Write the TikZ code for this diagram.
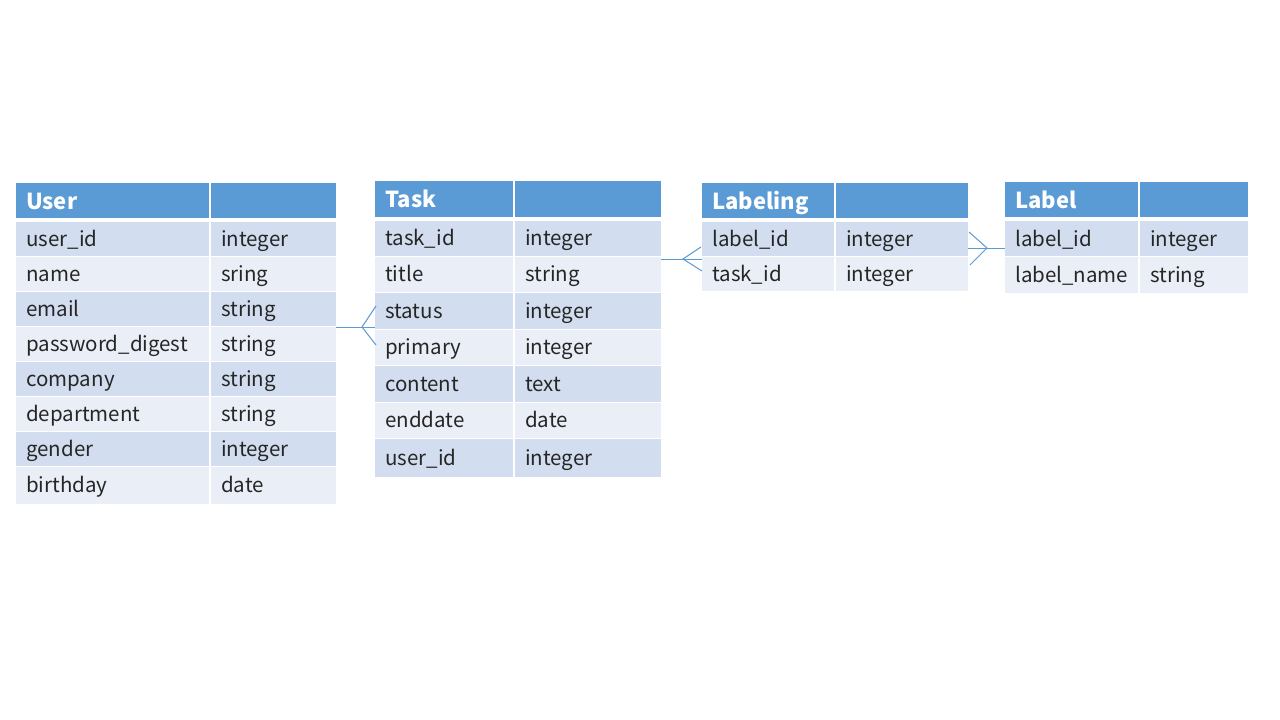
\documentclass[tikz,border=0pt]{standalone}
\usepackage{fontspec}
\setmainfont{Noto Sans CJK JP}
\definecolor{hdr}{HTML}{5B9BD5}
\definecolor{rowA}{HTML}{D2DEEF}
\definecolor{rowB}{HTML}{EAEFF7}
\definecolor{ink}{HTML}{262626}
\tikzset{
  cellbox/.style={rectangle, inner sep=0pt, draw=none, anchor=north west},
  hdrcell/.style={cellbox, fill=hdr},
  darkcell/.style={cellbox, fill=rowA},
  lightcell/.style={cellbox, fill=rowB},
  celltext/.style={anchor=west, inner sep=0pt, xshift=10pt, text height=18pt, text depth=3pt,
    font=\fontsize{20.5}{24}\selectfont, text=ink},
  hdrtext/.style={anchor=west, inner sep=0pt, xshift=10pt, text height=20pt, text depth=3pt,
    font=\fontsize{22}{26}\selectfont\bfseries, text=white},
  rel/.style={draw=hdr, line width=1pt},
}
% name, x0, xsplit, x1, top, bottom, title
\newcommand\ehead[7]{%
  \node[hdrcell, minimum width={#3-#2-1}, minimum height={#6-#5}] (#1k) at (#2,#5) {};
  \node[hdrcell, minimum width={#4-#3-1}, minimum height={#6-#5}] (#1v) at (#3+1,#5) {};
  \node[hdrtext] (#1kt) at (#1k.west) {#7};
}
% name, x0, xsplit, x1, top, bottom, style, key, type
\newcommand\erow[9]{%
  \node[#7, minimum width={#3-#2-1}, minimum height={#6-#5}] (#1k) at (#2,#5) {};
  \node[#7, minimum width={#4-#3-1}, minimum height={#6-#5}] (#1v) at (#3+1,#5) {};
  \node[celltext] (#1kt) at (#1k.west) {#8};
  \node[celltext] (#1vt) at (#1v.west) {#9};
}
\begin{document}
\begin{tikzpicture}[x=1pt,y=-1pt]
\useasboundingbox (0,0) rectangle (1280,720);
\fill[white] (0,0) rectangle (1280,720);

% User
\ehead{uh}{16}{210}{336}{183}{218}{User}
\erow{u1}{16}{210}{336}{222}{255.5}{darkcell}{user\_id}{integer}
\erow{u2}{16}{210}{336}{256.5}{290.5}{lightcell}{name}{sring}
\erow{u3}{16}{210}{336}{291.5}{325.5}{darkcell}{email}{string}
\erow{u4}{16}{210}{336}{326.5}{360.5}{lightcell}{password\_digest}{string}
\erow{u5}{16}{210}{336}{361.5}{395.5}{darkcell}{company}{string}
\erow{u6}{16}{210}{336}{396.5}{430.5}{lightcell}{department}{string}
\erow{u7}{16}{210}{336}{431.5}{465.5}{darkcell}{gender}{integer}
\erow{u8}{16}{210}{336}{466.5}{504}{lightcell}{birthday}{date}

% Task
\ehead{th}{375}{514}{661}{181}{217}{Task}
\erow{t1}{375}{514}{661}{220.5}{255.5}{darkcell}{task\_id}{integer}
\erow{t2}{375}{514}{661}{256.5}{292}{lightcell}{title}{string}
\erow{t3}{375}{514}{661}{293}{328.5}{darkcell}{status}{integer}
\erow{t4}{375}{514}{661}{329.5}{365}{lightcell}{primary}{integer}
\erow{t5}{375}{514}{661}{366}{401.5}{darkcell}{content}{text}
\erow{t6}{375}{514}{661}{402.5}{438}{lightcell}{enddate}{date}
\erow{t7}{375}{514}{661}{439}{476.5}{darkcell}{user\_id}{integer}

% Labeling
\ehead{gh}{702}{835}{968}{183}{218}{Labeling}
\erow{g1}{702}{835}{968}{222}{256}{darkcell}{label\_id}{integer}
\erow{g2}{702}{835}{968}{257}{290.5}{lightcell}{task\_id}{integer}

% Label
\ehead{bh}{1005}{1139}{1248}{182}{217}{Label}
\erow{b1}{1005}{1139}{1248}{221}{256}{darkcell}{label\_id}{integer}
\erow{b2}{1005}{1139}{1248}{257}{293}{lightcell}{label\_name}{string}

% relations
\coordinate (j1) at (362,327);
\draw[rel] (u4v.east |- j1) -- (t3k.west |- j1);
\draw[rel] (j1) ++(14,-21) -- (j1) -- ++(14,18);

\coordinate (j2) at (683,259);
\draw[rel] (t2v.east |- j2) -- (g1k.west |- j2);
\draw[rel] (j2) ++(18,-12) -- (j2) -- ++(19,12);

\coordinate (j3) at (987,248);
\draw[rel] (g1v.east |- j3) -- (b1k.west |- j3);
\draw[rel] (j3) ++(-18,-16) -- (j3) -- ++(-17,17);
\end{tikzpicture}
\end{document}
